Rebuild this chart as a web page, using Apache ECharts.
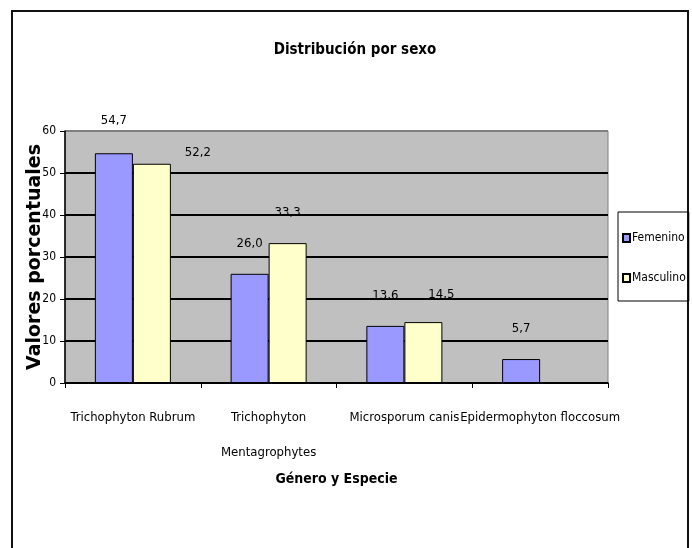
<!DOCTYPE html>
<html>
<head>
<meta charset="utf-8">
<script src="https://cdn.jsdelivr.net/npm/echarts@6/dist/echarts.min.js"></script>
<style>
html, body { margin: 0; padding: 0; background: #fff; }
#main { width: 692px; height: 548px; }
</style>
</head>
<body>
<div id="main"></div>
<script>
// data
var categories = ['Trichophyton Rubrum', 'Trichophyton\nMentagrophytes', 'Microsporum canis', 'Epidermophyton floccosum'];
var femenino = [54.7, 26.0, 13.6, 5.7];
var masculino = [52.2, 33.3, 14.5, null];
var seriesNames = ['Femenino', 'Masculino'];
var yTicks = [0, 10, 20, 30, 40, 50, 60];

var narrow = '"DejaVu Sans Condensed", "Liberation Sans Narrow", sans-serif';

var chartDom = document.getElementById('main');
var myChart = echarts.init(chartDom);
var option;

// labels in the original were dragged by hand in a few places
var femShift = { 0: [0, -2] };
var mascShift = { 0: [46, 19], 2: [18, 3] };

function withLabels(values, shifts) {
	return values.map(function (v, i) {
		var item = { value: v };
		if (shifts[i]) {
			item.label = { offset: shifts[i] };
		}
		return item;
	});
}

var labelStyle = {
	show: true,
	position: 'top',
	distance: 24,
	color: '#000',
	fontFamily: narrow,
	fontSize: 13,
	formatter: function (p) {
		return p.value == null ? '' : p.value.toFixed(1).replace('.', ',');
	}
};

option = {
	animation: false,
	backgroundColor: '#fff',
	title: {
		text: 'Distribución por sexo',
		left: 350,
		textAlign: 'center',
		top: 38,
		textStyle: {
			fontFamily: narrow,
			fontSize: 15,
			fontWeight: 'bold',
			color: '#000'
		}
	},
	legend: {
		data: seriesNames,
		orient: 'vertical',
		left: 618,
		top: 212,
		padding: [20, 3, 17, 4],
		itemGap: 28,
		itemWidth: 7,
		itemHeight: 8,
		icon: 'rect',
		borderColor: '#000',
		borderWidth: 1,
		textStyle: {
			fontFamily: narrow,
			fontSize: 12,
			color: '#000',
			padding: [0, 0, 0, -3]
		}
	},
	grid: {
		left: 65,
		right: 84,
		top: 131,
		bottom: 165,
		show: true,
		backgroundColor: '#c0c0c0',
		borderColor: '#808080',
		borderWidth: 1
	},
	xAxis: {
		type: 'category',
		data: categories,
		name: 'Género y Especie',
		nameLocation: 'middle',
		nameGap: 89,
		nameTextStyle: {
			fontFamily: narrow,
			fontSize: 14,
			fontWeight: 'bold',
			color: '#000'
		},
		axisLine: { lineStyle: { color: '#000', width: 1.5 } },
		axisTick: { show: true, length: 5, lineStyle: { color: '#000' } },
		axisLabel: {
			interval: 0,
			margin: 17,
			fontFamily: narrow,
			fontSize: 13,
			lineHeight: 35,
			color: '#000'
		}
	},
	yAxis: {
		type: 'value',
		min: yTicks[0],
		max: yTicks[yTicks.length - 1],
		interval: yTicks[1] - yTicks[0],
		name: 'Valores porcentuales',
		nameLocation: 'middle',
		nameGap: 20,
		nameMoveOverlap: false,
		nameTextStyle: {
			fontFamily: '"DejaVu Sans", sans-serif',
			fontSize: 19,
			fontWeight: 'bold',
			color: '#000'
		},
		axisLine: { show: true, lineStyle: { color: '#000', width: 1.5 } },
		axisTick: { show: true, length: 5, lineStyle: { color: '#000' } },
		axisLabel: {
			margin: 9,
			fontFamily: narrow,
			fontSize: 12,
			color: '#000'
		},
		splitLine: {
			lineStyle: {
				color: ['#000', '#000', '#000', '#000', '#000', '#000', '#808080'],
				width: 2
			}
		}
	},
	series: [
		{
			name: seriesNames[0],
			type: 'bar',
			data: withLabels(femenino, femShift),
			barGap: '0%',
			barCategoryGap: '44%',
			itemStyle: { color: '#9999ff', borderColor: '#000', borderWidth: 1 },
			label: labelStyle
		},
		{
			name: seriesNames[1],
			type: 'bar',
			data: withLabels(masculino, mascShift),
			barGap: '0%',
			barCategoryGap: '44%',
			itemStyle: { color: '#ffffcc', borderColor: '#000', borderWidth: 1 },
			label: labelStyle
		}
	],
	graphic: [
		{
			type: 'rect',
			shape: { x: 12, y: 11, width: 676, height: 560 },
			style: { fill: 'none', stroke: '#111', lineWidth: 2 },
			silent: true
		}
	]
};

option && myChart.setOption(option);
</script>
</body>
</html>
